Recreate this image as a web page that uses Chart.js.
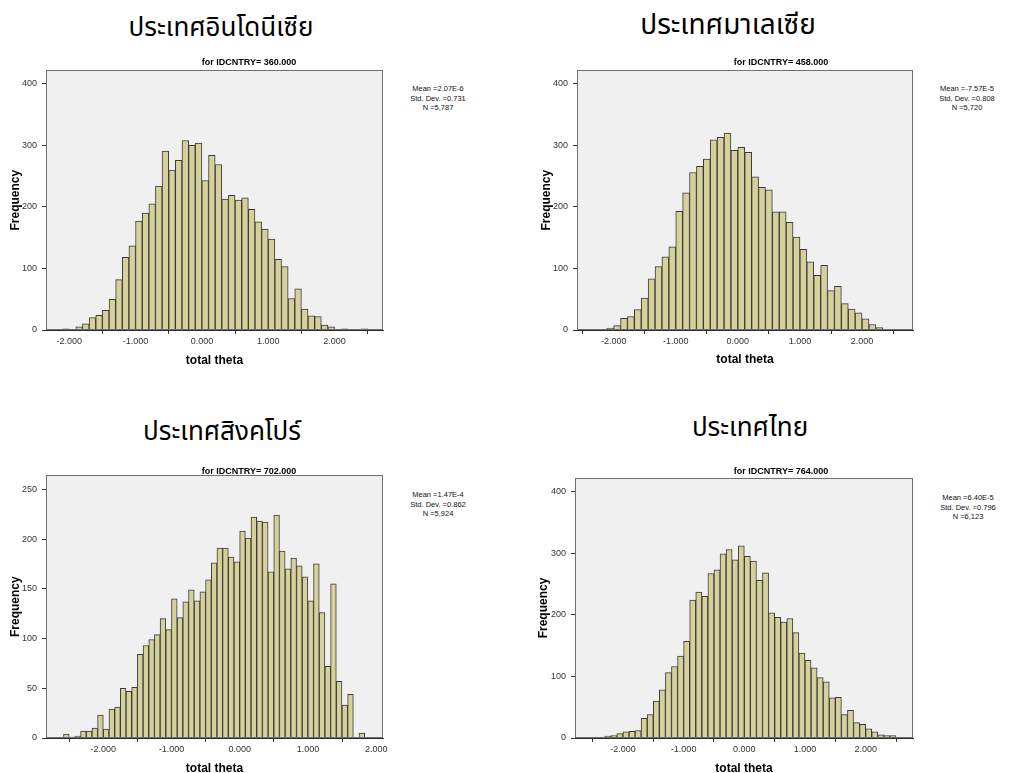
<!DOCTYPE html>
<html>
<head>
<meta charset="utf-8">
<script src="https://cdn.jsdelivr.net/npm/chart.js@4.4.1/dist/chart.umd.min.js"></script>
<style>
  html, body { margin: 0; padding: 0; background: #fff; width: 1009px; height: 773px; overflow: hidden; }
  canvas { position: absolute; }
  .ttl { position: absolute; transform: translate(-50%, -50%); white-space: nowrap;
         font-family: "Noto Sans Thai", "Loma", "Garuda", "Noto Sans", "DejaVu Sans", sans-serif; font-size: 26px; color: #000; }
  .sub { position: absolute; transform: translate(-50%, -50%); white-space: nowrap;
         font: bold 9px "Liberation Sans", Arial, sans-serif; color: #000; }
  .stats { position: absolute; transform: translateX(-50%); white-space: nowrap; text-align: center;
           font: 7.5px "Liberation Sans", Arial, sans-serif; line-height: 9.5px; color: #111; }
</style>
</head>
<body>
<script>
/* histogram data -------------------------------------------------- */
const countryNames = ['ประเทศอินโดนีเซีย', 'ประเทศมาเลเซีย', 'ประเทศสิงคโปร์', 'ประเทศไทย'];
const countryCodes = ['360.000', '458.000', '702.000', '764.000'];
const statMean = ['2.07E-6', '-7.57E-5', '1.47E-4', '6.40E-5'];
const statSd = ['0.731', '0.808', '0.862', '0.796'];
const statN = ['5,787', '5,720', '5,924', '6,123'];

// first bin edge and bin width of each histogram
const binStart = [-2.1, -2.3333, -2.5833, -2.5];
const binWidth = [0.1, 0.1111, 0.0833, 0.1];

const idnCounts = [2, 0, 5, 10, 20, 24, 32, 50, 82, 118, 137, 177, 190, 205, 234, 291, 260, 276, 308, 300,
  304, 243, 284, 269, 213, 219, 211, 215, 196, 176, 164, 148, 115, 103, 51, 67, 34, 23, 22, 8, 5, 1, 2, 0, 0, 2];
const mysCounts = [1, 0, 3, 7, 19, 22, 33, 52, 83, 103, 119, 135, 193, 223, 256, 266, 278, 309, 313, 320,
  292, 297, 289, 249, 232, 228, 192, 192, 175, 151, 131, 111, 89, 105, 64, 71, 43, 34, 28, 18, 9, 4, 1, 1];
const sgpCounts = [4, 1, 2, 7, 7, 10, 23, 9, 29, 31, 50, 47, 51, 84, 93, 99, 104, 120, 109, 140,
  121, 137, 149, 138, 147, 159, 176, 191, 191, 182, 177, 208, 201, 222, 218, 217, 167, 224, 188, 170,
  181, 173, 162, 138, 175, 126, 72, 155, 57, 33, 44, 0, 5];
const thaCounts = [1, 0, 3, 4, 7, 10, 11, 12, 32, 38, 60, 78, 106, 116, 133, 157, 224, 237, 230, 267,
  273, 299, 306, 289, 312, 295, 287, 256, 268, 203, 196, 188, 194, 171, 138, 126, 114, 98, 91, 65,
  66, 38, 45, 25, 22, 15, 10, 5, 4, 4];
const allCounts = [idnCounts, mysCounts, sgpCounts, thaCounts];

// axis ranges and tick labels
const xMin = [-2.35, -2.59, -2.84, -2.79];
const xMax = [2.73, 2.82, 2.10, 2.78];
const yMax = [422, 422, 264, 422];
const xTicks = [-2, -1, 0, 1, 2];
const yTicksBig = [0, 100, 200, 300, 400];
const yTicksSgp = [0, 50, 100, 150, 200, 250];
const yTicks = [yTicksBig, yTicksBig, yTicksSgp, yTicksBig];

/* page layout (pixels) -------------------------------------------- */
const panels = [
  { cv: [0, 60, 400, 315],   area: [46, 69, 383, 330],   yTitlePad: 8,  xTitlePad: 7,
    title: [221, 28], titleSize: 26, sub: [249, 62], stats: [438, 84] },
  { cv: [520, 60, 400, 315], area: [577, 69, 913, 330],  yTitlePad: 19, xTitlePad: 8,
    title: [728, 25], titleSize: 28, sub: [781, 62], stats: [967, 84] },
  { cv: [0, 465, 400, 320],  area: [46, 474, 383, 738],  yTitlePad: 8,  xTitlePad: 9,
    title: [222, 432], titleSize: 26, sub: [249, 471], stats: [438, 490] },
  { cv: [520, 465, 400, 320], area: [575, 478, 913, 738], yTitlePad: 16, xTitlePad: 9,
    title: [750, 428], titleSize: 26, sub: [781, 471], stats: [968, 493] }
];

const FONT = "'Liberation Sans', Arial, sans-serif";

const plotFrame = {
  id: 'plotFrame',
  beforeDraw(chart) {
    const { ctx, chartArea: a } = chart;
    ctx.save();
    ctx.fillStyle = '#f0f0f0';
    ctx.fillRect(a.left, a.top, a.right - a.left, a.bottom - a.top);
    ctx.restore();
  },
  afterDatasetsDraw(chart) {
    const { ctx, chartArea: a } = chart;
    ctx.save();
    ctx.strokeStyle = '#707070';
    ctx.lineWidth = 1;
    ctx.strokeRect(Math.round(a.left) + 0.5, Math.round(a.top) + 0.5,
      Math.round(a.right - a.left) - 1, Math.round(a.bottom - a.top) - 1);
    ctx.strokeStyle = '#2a2a2a';
    ctx.beginPath();
    ctx.moveTo(a.left, Math.round(a.bottom) + 0.5);
    ctx.lineTo(a.right, Math.round(a.bottom) + 0.5);
    ctx.stroke();
    ctx.restore();
  }
};

function addDiv(cls, pos, html, size) {
  const d = document.createElement('div');
  d.className = cls;
  d.style.left = pos[0] + 'px';
  d.style.top = pos[1] + 'px';
  if (size) d.style.fontSize = size + 'px';
  d.innerHTML = html;
  document.body.appendChild(d);
}

function drawPanel(i) {
  const p = panels[i];
  const [cl, ct, cw, ch] = p.cv;
  const [al, at, ar, ab] = p.area;

  const cv = document.createElement('canvas');
  cv.width = cw; cv.height = ch;
  cv.style.left = cl + 'px'; cv.style.top = ct + 'px';
  document.body.appendChild(cv);

  addDiv('ttl', p.title, countryNames[i], p.titleSize);
  addDiv('sub', p.sub, 'for IDCNTRY= ' + countryCodes[i]);
  addDiv('stats', p.stats, `Mean =${statMean[i]}<br>Std. Dev. =${statSd[i]}<br>N =${statN[i]}`);

  const points = allCounts[i].map((c, k) => ({ x: binStart[i] + (k + 0.5) * binWidth[i], y: c }));

  new Chart(cv.getContext('2d'), {
    type: 'bar',
    data: {
      datasets: [{
        data: points,
        backgroundColor: '#d6d19b',
        borderColor: '#3a3a3a',
        borderWidth: 1,
        borderSkipped: 'start',
        barPercentage: 1,
        categoryPercentage: 1
      }]
    },
    options: {
      responsive: false,
      animation: false,
      devicePixelRatio: 1,
      layout: { padding: { left: 0, bottom: 0, top: at - ct, right: cl + cw - ar } },
      plugins: { legend: { display: false }, tooltip: { enabled: false } },
      scales: {
        x: {
          type: 'linear',
          offset: false,
          min: xMin[i], max: xMax[i],
          afterBuildTicks: s => { s.ticks = xTicks.map(v => ({ value: v })); },
          afterFit: s => { s.height = ct + ch - ab; },
          grid: { display: true, drawOnChartArea: false, drawTicks: true, tickLength: 4, color: '#333' },
          border: { display: true, color: '#333' },
          ticks: { font: { family: FONT, size: 9 }, color: '#333', padding: 2, maxRotation: 0,
                   callback: v => v.toFixed(3) },
          title: { display: true, text: 'total theta', color: '#000',
                   font: { family: FONT, size: 12, weight: 'bold' }, padding: { top: 0, bottom: p.xTitlePad } }
        },
        y: {
          min: 0, max: yMax[i],
          afterBuildTicks: s => { s.ticks = yTicks[i].map(v => ({ value: v })); },
          afterFit: s => { s.width = al - cl; },
          grid: { display: true, drawOnChartArea: false, drawTicks: true, tickLength: 4, color: '#333' },
          border: { display: true, color: '#707070' },
          ticks: { font: { family: FONT, size: 9 }, color: '#333', padding: 5 },
          title: { display: true, text: 'Frequency', color: '#000',
                   font: { family: FONT, size: 12, weight: 'bold' }, padding: { top: p.yTitlePad, bottom: 0 } }
        }
      }
    },
    plugins: [plotFrame]
  });
}

for (let i = 0; i < panels.length; i++) drawPanel(i);
</script>
</body>
</html>
